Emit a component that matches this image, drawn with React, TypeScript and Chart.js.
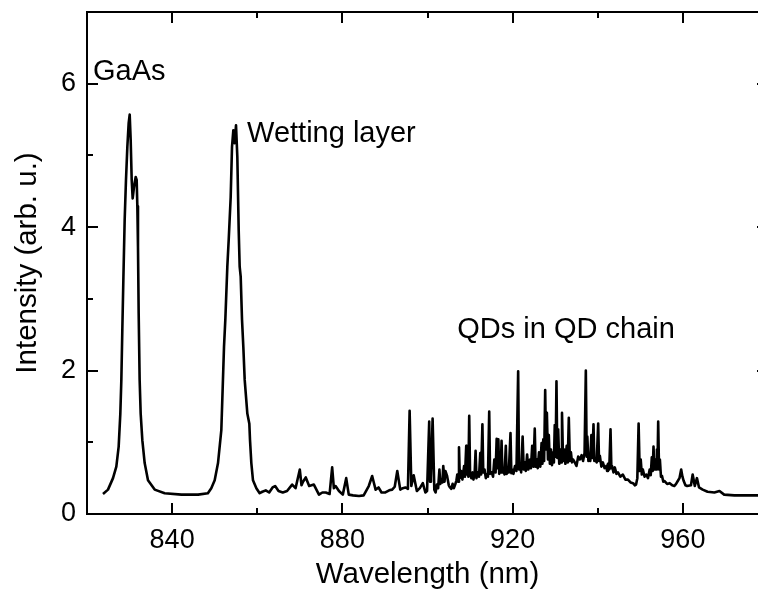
import React, { useEffect, useRef } from "react";
import { Chart, registerables } from "chart.js";

Chart.register(...registerables);

const wavelength: number[] = [
  823.76, 824.93, 826.11, 826.89, 827.44, 827.83, 828.07, 828.30, 828.54, 828.85,
  829.16, 829.48, 829.79, 830.03, 830.26, 830.50, 830.73, 831.04, 831.44, 831.67,
  831.83, 831.98, 832.14, 832.37, 832.61, 833.00, 833.55, 834.33, 835.90, 838.25,
  842.2, 846.1, 848.4, 849.2, 850.0, 850.78, 851.56, 852.19, 852.50, 852.97,
  853.29, 853.76, 854.07, 854.38, 854.70, 855.01, 855.32, 855.64, 855.87, 856.11,
  856.42, 856.73, 857.05, 857.67, 858.14, 858.30, 858.61, 859.0, 859.79, 860.57,
  861.2, 862, 862.8, 863.6, 864.2, 865, 866, 867, 868.2, 869,
  870.0, 870.4, 870.75, 871.4, 872.2, 873.3, 874.5, 875.3, 876.1, 877,
  877.6, 878.0, 878.4, 879.2, 880.1, 880.9, 881.5, 882.5, 883.9, 885,
  886.2, 887, 887.8, 888.5, 889.2, 890.1, 891, 891.7, 892.3, 892.9,
  893.6, 894.2, 894.8, 895.4, 895.8, 896.2, 896.75, 897.5, 898.2, 898.9,
  899.5, 899.9, 900.4, 900.6, 900.8, 901.2, 901.6, 901.9, 902.2, 902.5,
  902.8, 903.0, 903.2, 903.5, 903.7, 904.0, 904.2, 904.6, 905.0, 905.3,
  905.6, 905.9, 906.2, 906.5, 906.8, 907.0, 907.2, 907.4, 907.6, 907.9,
  908.2, 908.6, 908.8, 909.1, 909.25, 909.4, 909.6, 909.8, 910.0, 910.3,
  910.6, 910.8, 911.1, 911.3, 911.5, 911.8, 912.1, 912.4, 912.6, 912.9,
  913.1, 913.4, 913.7, 913.9, 914.2, 914.5, 914.7, 915.1, 915.4, 915.7,
  916.0, 916.25, 916.45, 916.65, 916.85, 917.05, 917.2, 917.4, 917.6, 917.9,
  918.1, 918.4, 918.6, 918.8, 919.1, 919.5, 919.7, 919.9, 920.2, 920.55,
  920.9, 921.3, 921.5, 921.8, 922.0, 922.35, 922.6, 922.9, 923.1, 923.4,
  923.7, 924.1, 924.3, 924.6, 924.9, 925.2, 925.4, 925.7, 925.9, 926.2,
  926.5, 926.8, 927.0, 927.2, 927.4, 927.65, 927.85, 928.05, 928.3, 928.5,
  928.75, 929.0, 929.25, 929.5, 929.7, 929.9, 930.1, 930.3, 930.5, 930.7,
  930.95, 931.2, 931.4, 931.6, 931.85, 932.1, 932.4, 932.7, 932.95, 933.2,
  933.45, 933.7, 933.95, 934.2, 934.6, 935.0, 935.4, 935.8, 936.2, 936.55,
  936.9, 937.2, 937.4, 937.55, 937.8, 938.0, 938.25, 938.5, 938.75, 939.0,
  939.2, 939.4, 939.75, 940.1, 940.3, 940.5, 940.85, 941.2, 941.6, 942.0,
  942.2, 942.4, 942.7, 943.0, 943.2, 943.35, 943.7, 944.0, 944.4, 944.75,
  945.3, 945.9, 946.5, 947.1, 947.7, 948.3, 948.7, 949.0, 949.3, 949.6,
  949.85, 950.1, 950.35, 950.6, 951.0, 951.4, 951.8, 952.2, 952.45, 952.7,
  952.9, 953.1, 953.3, 953.5, 953.7, 953.9, 954.05, 954.2, 954.4, 954.6,
  954.85, 955.1, 955.4, 955.7, 956.3, 956.9, 957.5, 958.0, 958.4, 958.8,
  959.2, 959.6, 959.9, 960.2, 960.6, 961.0, 961.9, 962.3, 962.8, 963.3,
  963.8, 964.65, 965.8, 967.4, 968.6, 969.7, 972.1, 976.8, 979.5,
];

const intensity: number[] = [
  0.28, 0.34, 0.50, 0.66, 0.94, 1.40, 1.87, 2.57, 3.26, 4.10,
  4.66, 5.12, 5.45, 5.57, 5.22, 4.66, 4.40, 4.56, 4.70, 4.66,
  4.29, 3.73, 2.80, 1.87, 1.40, 1.03, 0.71, 0.47, 0.34, 0.29,
  0.27, 0.27, 0.29, 0.36, 0.47, 0.71, 1.17, 2.33, 2.71, 3.45,
  3.82, 4.42, 5.12, 5.35, 5.17, 5.42, 4.98, 3.96, 3.45, 3.31,
  2.71, 2.33, 1.87, 1.40, 1.26, 1.03, 0.71, 0.47, 0.36, 0.29,
  0.31, 0.33, 0.30, 0.37, 0.39, 0.32, 0.30, 0.32, 0.41, 0.36,
  0.62, 0.40, 0.45, 0.51, 0.39, 0.41, 0.27, 0.30, 0.30, 0.28,
  0.65, 0.36, 0.39, 0.32, 0.27, 0.50, 0.27, 0.26, 0.25, 0.26,
  0.39, 0.53, 0.34, 0.37, 0.30, 0.30, 0.33, 0.34, 0.38, 0.60,
  0.34, 0.36, 0.37, 0.35, 1.44, 0.39, 0.54, 0.32, 0.36, 0.43,
  0.30, 0.32, 1.29, 0.45, 0.50, 1.33, 0.34, 0.30, 0.41, 0.36,
  0.62, 0.42, 0.48, 0.44, 0.67, 0.45, 0.60, 0.53, 0.40, 0.37,
  0.35, 0.42, 0.36, 0.41, 0.47, 0.55, 0.45, 0.93, 0.50, 0.60,
  0.48, 0.67, 0.52, 0.95, 0.55, 0.72, 0.52, 1.37, 0.58, 0.50,
  0.58, 0.48, 0.60, 0.88, 0.50, 0.58, 0.52, 0.85, 0.55, 1.25,
  0.58, 0.62, 0.50, 0.55, 0.52, 1.43, 0.56, 0.58, 0.52, 0.76,
  0.58, 1.05, 0.64, 1.04, 0.56, 0.62, 0.58, 1.02, 0.58, 0.62,
  0.55, 0.95, 0.56, 0.60, 0.58, 1.13, 0.57, 0.62, 0.56, 0.67,
  0.60, 1.99, 0.62, 0.67, 0.58, 1.08, 0.62, 0.72, 0.60, 0.83,
  0.62, 0.76, 0.64, 0.95, 0.66, 1.19, 0.66, 0.76, 0.64, 0.86,
  0.66, 0.99, 0.70, 1.04, 0.74, 1.73, 0.90, 1.41, 0.76, 1.10,
  0.70, 0.90, 0.68, 0.86, 0.72, 1.24, 0.80, 1.85, 0.78, 1.18,
  0.70, 0.90, 0.72, 1.41, 0.74, 0.90, 0.70, 0.95, 0.72, 1.34,
  0.74, 0.86, 0.72, 0.76, 0.72, 0.67, 0.80, 0.76, 0.82, 0.74,
  0.85, 2.00, 0.80, 1.08, 0.74, 0.76, 0.74, 1.10, 0.78, 1.25,
  0.74, 0.76, 0.72, 1.26, 0.74, 0.81, 0.66, 0.72, 0.64, 0.67,
  0.60, 0.70, 0.62, 1.18, 0.64, 0.67, 0.58, 0.65, 0.56, 0.58,
  0.52, 0.55, 0.48, 0.48, 0.44, 0.43, 0.40, 0.41, 0.50, 1.26,
  0.60, 0.76, 0.55, 0.62, 0.52, 0.55, 0.50, 0.62, 0.54, 0.79,
  0.60, 0.94, 0.62, 0.76, 0.62, 0.90, 0.70, 1.29, 0.62, 0.76,
  0.52, 0.53, 0.45, 0.46, 0.42, 0.43, 0.40, 0.39, 0.42, 0.46,
  0.50, 0.62, 0.52, 0.46, 0.40, 0.39, 0.40, 0.55, 0.39, 0.50,
  0.37, 0.34, 0.31, 0.30, 0.32, 0.27, 0.26, 0.26, 0.26,
];

const xTickValues: number[] = [820, 840, 860, 880, 900, 920, 940, 960, 980];
const xTickLabels: string[] = ["", "840", "", "880", "", "920", "", "960", ""];
const yTickValues: number[] = [0, 1, 2, 3, 4, 5, 6, 7];
const yTickLabels: string[] = ["0", "", "2", "", "4", "", "6", ""];

const annotationTexts: string[] = ["GaAs", "Wetting layer", "QDs in QD chain"];
const annotationX: number[] = [821.4, 857.6, 907.0];
const annotationY: number[] = [6.05, 5.19, 2.46];

const FONT = "'Liberation Sans', Arial, Helvetica, sans-serif";

const framePlugin = {
  id: "frameTicks",
  afterDatasetsDraw(chart: any) {
    const { ctx, chartArea: a, scales } = chart;
    const xs = scales.x;
    const ys = scales.y;
    ctx.save();
    ctx.strokeStyle = "#000";
    ctx.lineWidth = 2;
    ctx.lineCap = "butt";
    ctx.strokeRect(a.left, a.top, a.right - a.left, a.bottom - a.top);
    xTickValues.forEach((v, i) => {
      const px = Math.round(xs.getPixelForValue(v));
      const len = xTickLabels[i] !== "" ? 11 : 6;
      ctx.beginPath();
      ctx.moveTo(px, a.bottom);
      ctx.lineTo(px, a.bottom - len);
      ctx.moveTo(px, a.top);
      ctx.lineTo(px, a.top + len);
      ctx.stroke();
    });
    yTickValues.forEach((v, i) => {
      const py = Math.round(ys.getPixelForValue(v));
      const len = yTickLabels[i] !== "" ? 11 : 6;
      ctx.beginPath();
      ctx.moveTo(a.left, py);
      ctx.lineTo(a.left + len, py);
      ctx.moveTo(a.right, py);
      ctx.lineTo(a.right - len, py);
      ctx.stroke();
    });
    ctx.fillStyle = "#000";
    ctx.font = `29px ${FONT}`;
    ctx.textBaseline = "alphabetic";
    ctx.textAlign = "left";
    annotationTexts.forEach((t, i) => {
      ctx.fillText(t, xs.getPixelForValue(annotationX[i]), ys.getPixelForValue(annotationY[i]));
    });
    ctx.restore();
  },
};

export default function App() {
  const ref = useRef<HTMLCanvasElement | null>(null);
  useEffect(() => {
    if (!ref.current) return;
    const points = wavelength.map((w, i) => ({ x: w, y: intensity[i] }));
    const chart = new Chart(ref.current, {
      type: "line",
      data: {
        datasets: [
          {
            data: points,
            borderColor: "#000",
            borderWidth: 2.6,
            pointRadius: 0,
            tension: 0,
            fill: false,
            borderJoinStyle: "round",
          },
        ],
      },
      options: {
        animation: false,
        responsive: true,
        maintainAspectRatio: false,
        layout: { padding: { top: 12, right: 12, left: 0, bottom: 0 } },
        plugins: { legend: { display: false }, tooltip: { enabled: false } },
        scales: {
          x: {
            type: "linear",
            min: 820,
            max: 980,
            afterFit: (s: any) => {
              s.height = 78;
              s.paddingLeft = 0;
              s.paddingRight = 0;
            },
            afterBuildTicks: (s: any) => {
              s.ticks = xTickValues.map((v) => ({ value: v }));
            },
            grid: { display: false, drawTicks: false },
            border: { display: false },
            ticks: {
              autoSkip: false,
              maxRotation: 0,
              padding: 10,
              color: "#000",
              font: { size: 27, family: FONT },
              callback: (v: any) => {
                const i = xTickValues.indexOf(Number(v));
                return i >= 0 ? xTickLabels[i] : "";
              },
            },
            title: {
              display: true,
              text: "Wavelength (nm)",
              color: "#000",
              font: { size: 29.5, family: FONT, lineHeight: 1 },
              padding: { top: 0, bottom: 2 },
            },
          },
          y: {
            type: "linear",
            min: 0,
            max: 7,
            afterFit: (s: any) => {
              s.width = 87;
              s.paddingTop = 0;
              s.paddingBottom = 0;
            },
            afterBuildTicks: (s: any) => {
              s.ticks = yTickValues.map((v) => ({ value: v }));
            },
            grid: { display: false, drawTicks: false },
            border: { display: false },
            ticks: {
              autoSkip: false,
              padding: 11,
              color: "#000",
              font: { size: 27, family: FONT },
              callback: (v: any) => {
                const i = yTickValues.indexOf(Number(v));
                return i >= 0 ? yTickLabels[i] : "";
              },
            },
            title: {
              display: true,
              text: "Intensity (arb. u.)",
              color: "#000",
              font: { size: 29.5, family: FONT, lineHeight: 1 },
              padding: { top: 13, bottom: 0 },
            },
          },
        },
      },
      plugins: [framePlugin],
    });
    return () => chart.destroy();
  }, []);
  return (
    <div style={{ position: "fixed", left: 0, top: 0, width: 780, height: 592, background: "#fff" }}>
      <canvas ref={ref} />
    </div>
  );
}
